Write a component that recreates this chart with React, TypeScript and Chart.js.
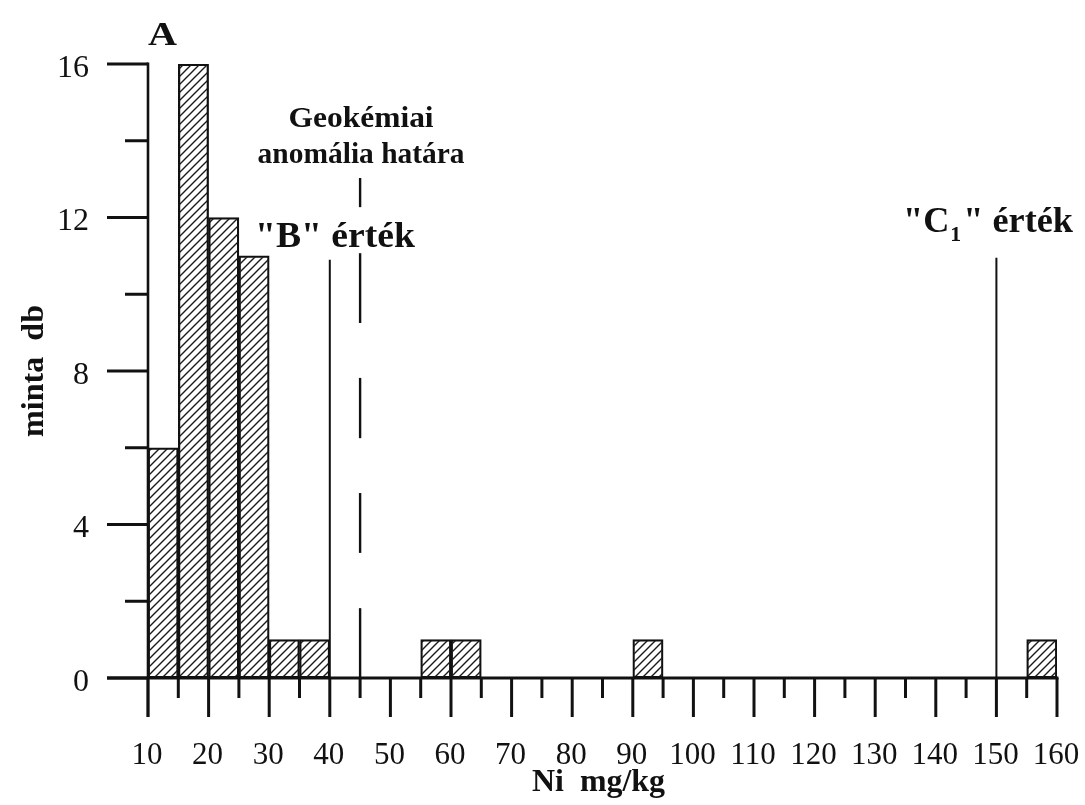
import React, { useEffect, useRef } from 'react';
import { Chart, registerables } from 'chart.js';

Chart.register(...registerables);

// Histogram bins (Ni mg/kg), bin width 5
const binStarts = [10, 15, 20, 25, 30, 35, 40, 45, 50, 55, 60, 65, 70, 75, 80, 85, 90, 95, 100, 105, 110, 115, 120, 125, 130, 135, 140, 145, 150, 155];
const binWidth = 5;
const counts = [6, 16, 12, 11, 1, 1, 0, 0, 0, 1, 1, 0, 0, 0, 0, 0, 1, 0, 0, 0, 0, 0, 0, 0, 0, 0, 0, 0, 0, 1];

// Axis ticks
const xMajorTicks = [10, 20, 30, 40, 50, 60, 70, 80, 90, 100, 110, 120, 130, 140, 150, 160];
const xMinorTicks = [15, 25, 35, 45, 55, 65, 75, 85, 95, 105, 115, 125, 135, 145, 155];
const yMajorTicks = [0, 4, 8, 12, 16];
const yMinorTicks = [2, 6, 10, 14];

// Reference lines: value on x, extent in y-units
const bLine = { x: 40, top: 10.9 };
const c1Line = { x: 150, top: 10.95 };
const anomalyX = 45;
const anomalyDashes = [[0, 1.82], [3.26, 4.82], [6.25, 7.82], [9.25, 11.07], [12.27, 13.03]];

const SERIF = '"Liberation Serif", "Times New Roman", "DejaVu Serif", serif';

function fitText(
  ctx: CanvasRenderingContext2D,
  text: string,
  x: number,
  y: number,
  width: number,
  align: 'left' | 'center'
) {
  const w = ctx.measureText(text).width;
  const sx = width / w;
  ctx.save();
  ctx.textAlign = 'left';
  const left = align === 'center' ? x - width / 2 : x;
  ctx.translate(left, y);
  ctx.scale(sx, 1);
  ctx.fillText(text, 0, 0);
  ctx.restore();
}

export default function App() {
  const ref = useRef<HTMLCanvasElement | null>(null);

  useEffect(() => {
    const canvas = ref.current;
    if (!canvas) return;
    const ctx0 = canvas.getContext('2d')!;

    const tile = document.createElement('canvas');
    tile.width = 8;
    tile.height = 8;
    const g = tile.getContext('2d')!;
    g.strokeStyle = '#1a1a1a';
    g.lineWidth = 1.4;
    g.beginPath();
    g.moveTo(-1, 9); g.lineTo(9, -1);
    g.moveTo(-3, 3); g.lineTo(3, -3);
    g.moveTo(5, 11); g.lineTo(11, 5);
    g.stroke();
    const hatch = ctx0.createPattern(tile, 'repeat')!;

    const data = binStarts.map((s, i) => ({ x: s + binWidth / 2, y: counts[i] }));

    const decor = {
      id: 'decor',
      afterDraw(chart: any) {
        const ctx = chart.ctx as CanvasRenderingContext2D;
        const xs = chart.scales.x;
        const ys = chart.scales.y;
        const x0 = xs.getPixelForValue(10);
        const x1 = xs.getPixelForValue(160);
        const y0 = ys.getPixelForValue(0);
        const yTop = ys.getPixelForValue(16);
        ctx.save();
        ctx.strokeStyle = '#111';
        ctx.fillStyle = '#111';
        ctx.lineCap = 'butt';

        // y ticks + labels
        ctx.lineWidth = 3;
        ctx.font = `32px ${SERIF}`;
        ctx.textAlign = 'right';
        ctx.textBaseline = 'alphabetic';
        yMajorTicks.forEach((v) => {
          const y = ys.getPixelForValue(v);
          ctx.beginPath(); ctx.moveTo(x0 - 41, y); ctx.lineTo(x0, y); ctx.stroke();
          ctx.fillText(String(v), x0 - 59, y + 12.5);
        });
        yMinorTicks.forEach((v) => {
          const y = ys.getPixelForValue(v);
          ctx.beginPath(); ctx.moveTo(x0 - 23, y); ctx.lineTo(x0, y); ctx.stroke();
        });
        // x ticks + labels
        ctx.font = `31px ${SERIF}`;
        ctx.textAlign = 'center';
        xMajorTicks.forEach((v) => {
          const x = xs.getPixelForValue(v);
          ctx.beginPath(); ctx.moveTo(x, y0); ctx.lineTo(x, y0 + 39); ctx.stroke();
          ctx.fillText(String(v), x - 1, y0 + 86);
        });
        xMinorTicks.forEach((v) => {
          const x = xs.getPixelForValue(v);
          ctx.beginPath(); ctx.moveTo(x, y0); ctx.lineTo(x, y0 + 20); ctx.stroke();
        });
        // axes
        ctx.lineWidth = 3;
        ctx.beginPath(); ctx.moveTo(x0 - 41, y0); ctx.lineTo(x1 + 1.5, y0); ctx.stroke();
        ctx.lineWidth = 2.6;
        ctx.beginPath(); ctx.moveTo(x0, yTop - 1.5); ctx.lineTo(x0, y0 + 39); ctx.stroke();

        // reference lines
        ctx.lineWidth = 2;
        const bx = xs.getPixelForValue(bLine.x);
        ctx.beginPath(); ctx.moveTo(bx, ys.getPixelForValue(bLine.top)); ctx.lineTo(bx, y0); ctx.stroke();
        const cx = xs.getPixelForValue(c1Line.x);
        ctx.beginPath(); ctx.moveTo(cx, ys.getPixelForValue(c1Line.top)); ctx.lineTo(cx, y0); ctx.stroke();
        const ax = xs.getPixelForValue(anomalyX);
        ctx.lineWidth = 2.4;
        anomalyDashes.forEach(([a, b]) => {
          ctx.beginPath(); ctx.moveTo(ax, ys.getPixelForValue(a)); ctx.lineTo(ax, ys.getPixelForValue(b)); ctx.stroke();
        });

        // texts
        ctx.textBaseline = 'alphabetic';
        ctx.font = `bold 33px ${SERIF}`;
        fitText(ctx, 'A', 148, 45, 29, 'left');

        ctx.font = `bold 30px ${SERIF}`;
        fitText(ctx, 'Geokémiai', ax + 1, 127, 145, 'center');
        fitText(ctx, 'anomália határa', ax + 1, 163, 207, 'center');

        ctx.font = `bold 35px ${SERIF}`;
        fitText(ctx, '"B" érték', 255, 247, 160, 'left');

        // "C1" érték with subscript
        {
          const ty = 232;
          ctx.font = `bold 35px ${SERIF}`;
          const w1 = ctx.measureText('"C').width;
          const w3 = ctx.measureText('" érték').width;
          ctx.font = `bold 21px ${SERIF}`;
          const w2 = ctx.measureText('1').width + 3;
          const total = w1 + w2 + w3;
          const sx = 170 / total;
          ctx.save();
          ctx.translate(903, ty);
          ctx.scale(sx, 1);
          ctx.textAlign = 'left';
          ctx.font = `bold 35px ${SERIF}`;
          ctx.fillText('"C', 0, 0);
          ctx.font = `bold 21px ${SERIF}`;
          ctx.fillText('1', w1 + 1, 9);
          ctx.font = `bold 35px ${SERIF}`;
          ctx.fillText('" érték', w1 + w2, 0);
          ctx.restore();
        }

        ctx.font = `bold 31px ${SERIF}`;
        fitText(ctx, 'Ni  mg/kg', 532, 791, 133, 'left');

        ctx.save();
        ctx.translate(43, 371);
        ctx.rotate(-Math.PI / 2);
        ctx.font = `bold 32px ${SERIF}`;
        fitText(ctx, 'minta  db', 0, 0, 132, 'center');
        ctx.restore();

        ctx.restore();
      },
    };

    const chart = new Chart(canvas, {
      type: 'bar',
      data: {
        datasets: [
          {
            data,
            backgroundColor: hatch,
            borderColor: '#111',
            borderWidth: 1.6,
            borderSkipped: false,
            barPercentage: 1,
            categoryPercentage: 1,
          } as any,
        ],
      },
      options: {
        animation: false,
        responsive: false,
        maintainAspectRatio: false,
        layout: { padding: { left: 0, right: 28, top: 64, bottom: 0 } },
        plugins: { legend: { display: false }, tooltip: { enabled: false }, title: { display: false } },
        scales: {
          x: {
            type: 'linear',
            min: 10,
            max: 160,
            offset: false,
            grid: { display: false },
            border: { display: false },
            ticks: { display: false, stepSize: 5 },
            afterFit: (s: any) => { s.height = 127; },
          },
          y: {
            type: 'linear',
            min: 0,
            max: 16,
            grid: { display: false },
            border: { display: false },
            ticks: { display: false, stepSize: 2 },
            afterFit: (s: any) => { s.width = 148; },
          },
        },
      },
      plugins: [decor],
    });

    return () => chart.destroy();
  }, []);

  return (
    <div style={{ position: 'absolute', left: 0, top: 0, width: 1085, height: 805, background: '#fff' }}>
      <canvas ref={ref} width={1085} height={805} style={{ display: 'block', width: 1085, height: 805 }} />
    </div>
  );
}
